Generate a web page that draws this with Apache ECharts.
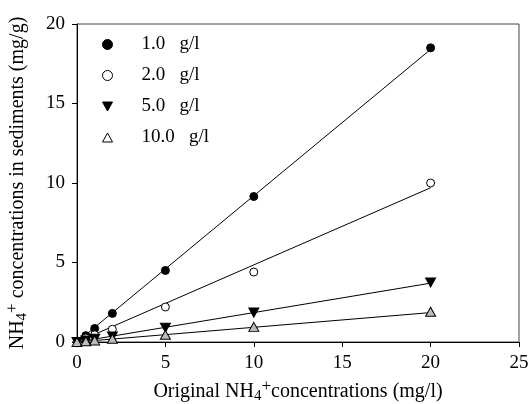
<!DOCTYPE html>
<html><head><meta charset="utf-8">
<script src="https://cdn.jsdelivr.net/npm/echarts@6/dist/echarts.min.js"></script>
<style>html,body{margin:0;padding:0;background:#fff}#c{width:529px;height:404px}</style>
</head><body><div id="c"></div>
<script>
var xValues = [0, 0.5, 1, 2, 5, 10, 20];
var s1 = [0, 0.4, 0.85, 1.8, 4.5, 9.15, 18.5];
var s2 = [0, 0.25, 0.45, 0.8, 2.2, 4.4, 10.0];
var s3 = [0, 0.1, 0.2, 0.35, 0.9, 1.85, 3.75];
var s4 = [0, 0.05, 0.1, 0.2, 0.45, 0.95, 1.9];
var fitX = [0, 20];
var fit1 = [0, 18.4];
var fit2 = [0, 9.7];
var fit3 = [0, 3.7];
var fit4 = [0, 1.85];
var names = ['1.0   g/l', '2.0   g/l', '5.0   g/l', '10.0   g/l'];
var xTicks = [0, 5, 10, 15, 20, 25];
var yTicks = [0, 5, 10, 15, 20];

function pts(xs, ys){ return xs.map(function(x,i){return [x, ys[i]];}); }
var FONT = '"Liberation Serif", "Times New Roman", serif';
var triDown = 'path://M0,0 L10,0 L5,9 Z';
var triUp = 'path://M5,0 L10,9 L0,9 Z';
var markers = [
  {symbol:'circle', size:8, color:'#000', legendColor:'#000'},
  {symbol:'circle', size:8, color:'#fff', legendColor:'#fff'},
  {symbol:triDown, size:[10,9], color:'#000', legendColor:'#000'},
  {symbol:triUp, size:[10,9], color:'#bbb', legendColor:'#fff'}
];
var seriesData = [s1, s2, s3, s4];
var fits = [fit1, fit2, fit3, fit4];
var series = [];
fits.forEach(function(f){
  series.push({type:'line', data: pts(fitX, f), symbol:'none', silent:true,
    lineStyle:{color:'#000', width:1}, z:1});
});
seriesData.forEach(function(d,i){
  var m = markers[i];
  series.push({type:'scatter', name: names[i], data: pts(xValues, d), symbol: m.symbol, symbolSize: m.size,
    itemStyle:{color:m.color, borderColor:'#000', borderWidth:1, opacity:1}, z:3});
});

var richT = {n:{fontFamily:FONT, fontSize:20, color:'#000'},
  sub:{fontFamily:FONT, fontSize:15, color:'#000', padding:[9,0,0,0]},
  sup:{fontFamily:FONT, fontSize:17, color:'#000', padding:[0,0,11,0]}};

var chart = echarts.init(document.getElementById('c'), null, {renderer:'canvas'});
chart.setOption({
  animation:false,
  backgroundColor:'#fff',
  grid:{left:77, top:24, right:10, bottom:62, show:true, borderColor:'#444', borderWidth:1,
    containLabel:false, outerBoundsMode:'none'},
  legend:{
    orient:'vertical', left:97, top:30, itemGap:12, itemWidth:10, itemHeight:10,
    data: names.map(function(n,i){ return {name:n, icon: markers[i].symbol,
      itemStyle:{color:markers[i].legendColor, borderColor:'#000', borderWidth:1}}; }),
    textStyle:{fontFamily:FONT, fontSize:19, color:'#000', padding:[0,0,0,24]}
  },
  xAxis:{
    type:'value', min:0, max:25, interval:5,
    axisLine:{show:true, lineStyle:{color:'#000'}},
    axisTick:{show:true, inside:false, length:5, lineStyle:{color:'#000'}},
    splitLine:{show:false},
    axisLabel:{fontFamily:FONT, fontSize:19, color:'#000', margin:12},
    name:'{n|Original NH}{sub|4}{sup|+}{n|concentrations (mg/l)}',
    nameLocation:'middle', nameGap:30,
    nameTextStyle:{fontFamily:FONT, fontSize:20, color:'#000', rich:richT}
  },
  yAxis:{
    type:'value', min:0, max:20, interval:5,
    axisLine:{show:true, lineStyle:{color:'#000'}},
    axisTick:{show:true, inside:false, length:5, lineStyle:{color:'#000'}},
    splitLine:{show:false},
    axisLabel:{fontFamily:FONT, fontSize:19, color:'#000', margin:12},
    name:'{n|NH}{sub|4}{sup|+}{n| concentrations in sediments (mg/g)}',
    nameLocation:'middle', nameGap:45, nameRotate:90,
    nameTextStyle:{fontFamily:FONT, fontSize:20, color:'#000', rich:richT}
  },
  series: series
});
</script></body></html>
